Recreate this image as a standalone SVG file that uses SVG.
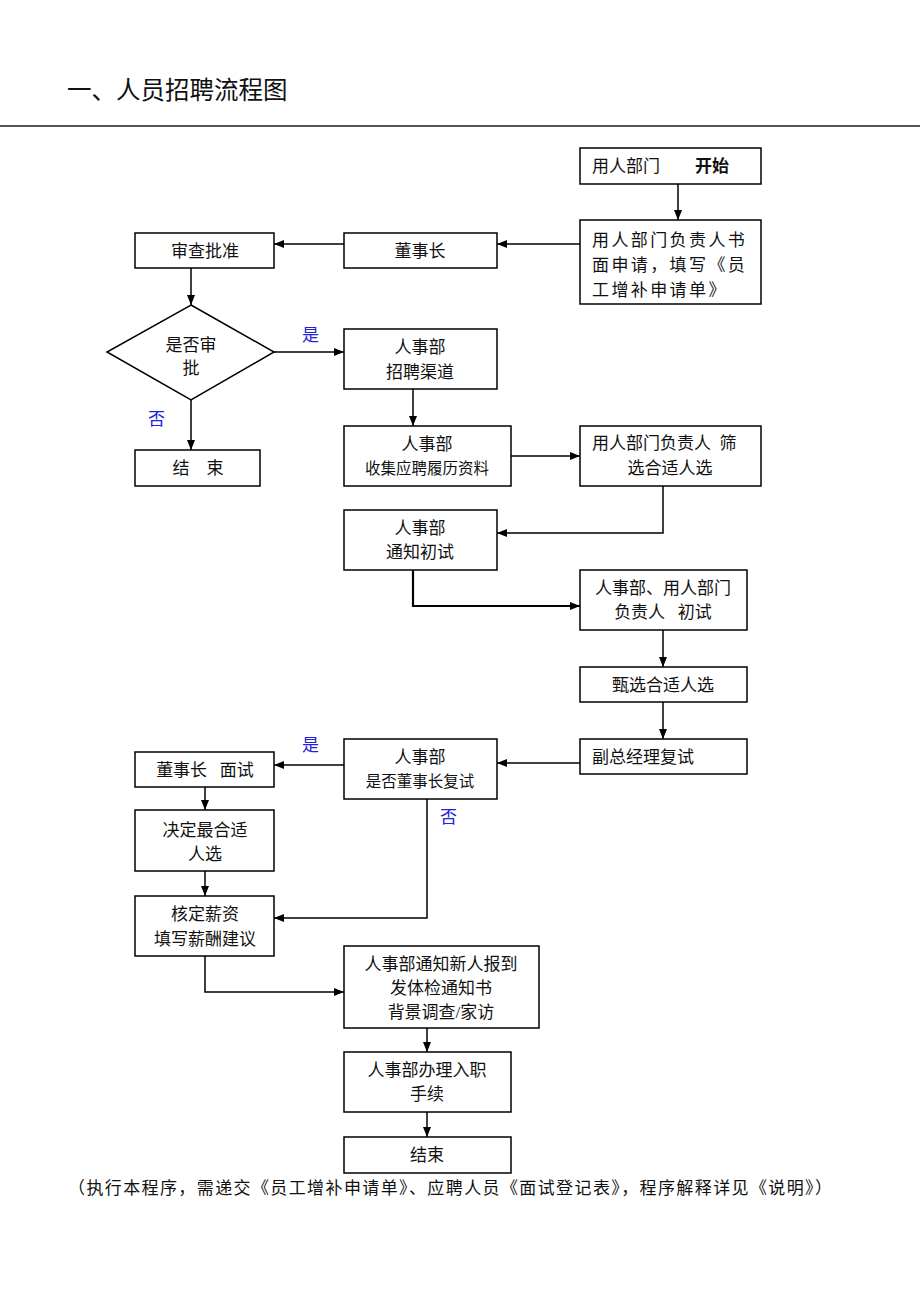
<svg xmlns="http://www.w3.org/2000/svg" width="920" height="1302" viewBox="0 0 920 1302">
<defs>
<marker id="ah" markerWidth="10" markerHeight="8" refX="10" refY="4" orient="auto" markerUnits="userSpaceOnUse">
<path d="M0,0 L10,4 L0,8 Z" fill="#000"/>
</marker>
<style>
text{font-family:"Liberation Serif","Noto Sans CJK SC",serif;font-size:17px;fill:#111;white-space:pre}
.c{text-anchor:middle}
.s{font-size:15.5px}
.b{fill:#2020e0}
.box{fill:#fff;stroke:#000;stroke-width:1.5}
.ln{fill:none;stroke:#000;stroke-width:1.5;marker-end:url(#ah)}
</style>
</defs>
<rect width="920" height="1302" fill="#fff"/>
<text x="67" y="99" style="font-size:24.5px">一、人员招聘流程图</text>
<line x1="0" y1="126" x2="920" y2="126" stroke="#555" stroke-width="2"/>

<g id="connectors">
<path class="ln" d="M678,184 V220"/>
<path class="ln" d="M580,244 H497"/>
<path class="ln" d="M344,244 H274"/>
<path class="ln" d="M191,268 V305"/>
<path class="ln" d="M274,352 H344"/>
<path class="ln" d="M191,400 V450"/>
<path class="ln" d="M413,389 V426"/>
<path class="ln" d="M511,456 H580"/>
<path class="ln" d="M663,486 V533 H497"/>
<path class="ln" d="M413,570 V606 H580" style="stroke-width:2.2"/>
<path class="ln" d="M663,630 V667"/>
<path class="ln" d="M663,702 V739"/>
<path class="ln" d="M580,763 H497"/>
<path class="ln" d="M344,765 H274"/>
<path class="ln" d="M427,799 V918 H274"/>
<path class="ln" d="M205,787 V810"/>
<path class="ln" d="M205,871 V896"/>
<path class="ln" d="M205,956 V992 H344"/>
<path class="ln" d="M427,1028 V1052"/>
<path class="ln" d="M427,1112 V1137"/>
<text class="b" x="302" y="341">是</text>
<text class="b" x="148" y="425">否</text>
<text class="b" x="302" y="751">是</text>
<text class="b" x="440" y="823">否</text>
</g>

<g id="n-start"><rect class="box" x="580" y="148" width="181" height="36"/><text x="592" y="172">用人部门</text><text x="695" y="172" style="font-weight:bold">开始</text></g>
<g id="n-apply"><rect class="box" x="580" y="220" width="181" height="84"/>
<text x="592" y="246" letter-spacing="2.4">用人部门负责人书</text>
<text x="592" y="271" letter-spacing="2.4">面申请，填写《员</text>
<text x="592" y="296" letter-spacing="2.4">工增补申请单》</text></g>
<g id="n-chairman"><rect class="box" x="344" y="233" width="153" height="35"/><text class="c" x="420" y="257">董事长</text></g>
<g id="n-review"><rect class="box" x="135" y="233" width="139" height="35"/><text class="c" x="205" y="257">审查批准</text></g>
<g id="n-decision"><polygon class="box" points="191,305 274,352 191,400 107,352"/><text class="c" x="191" y="351">是否审</text><text class="c" x="191" y="374">批</text></g>
<g id="n-channel"><rect class="box" x="344" y="329" width="153" height="60"/><text class="c" x="420" y="353">人事部</text><text class="c" x="420" y="378">招聘渠道</text></g>
<g id="n-end1"><rect class="box" x="135" y="450" width="125" height="36"/><text class="c" x="198" y="474">结　束</text></g>
<g id="n-collect"><rect class="box" x="344" y="426" width="167" height="60"/><text class="c" x="427" y="450">人事部</text><text class="c s" x="427" y="474">收集应聘履历资料</text></g>
<g id="n-screen"><rect class="box" x="580" y="426" width="181" height="60"/><text x="592" y="449">用人部门负责人  筛</text><text class="c" x="670" y="474">选合适人选</text></g>
<g id="n-notify"><rect class="box" x="344" y="510" width="153" height="60"/><text class="c" x="420" y="534">人事部</text><text class="c" x="420" y="558">通知初试</text></g>
<g id="n-first"><rect class="box" x="580" y="570" width="167" height="60"/><text class="c" x="663" y="594">人事部、用人部门</text><text class="c" x="663" y="618">负责人   初试</text></g>
<g id="n-select"><rect class="box" x="580" y="667" width="167" height="35"/><text class="c" x="663" y="691">甄选合适人选</text></g>
<g id="n-vp"><rect class="box" x="580" y="739" width="167" height="35"/><text x="592" y="763">副总经理复试</text></g>
<g id="n-ask"><rect class="box" x="344" y="739" width="153" height="60"/><text class="c" x="420" y="763">人事部</text><text class="c s" x="420" y="787">是否董事长复试</text></g>
<g id="n-interview"><rect class="box" x="135" y="752" width="139" height="35"/><text class="c" x="205" y="776">董事长   面试</text></g>
<g id="n-decide"><rect class="box" x="135" y="810" width="139" height="61"/><text class="c" x="205" y="836">决定最合适</text><text class="c" x="205" y="860">人选</text></g>
<g id="n-salary"><rect class="box" x="135" y="896" width="139" height="60"/><text class="c" x="205" y="920">核定薪资</text><text class="c" x="205" y="945">填写薪酬建议</text></g>
<g id="n-report"><rect class="box" x="344" y="946" width="195" height="82"/><text class="c" x="441" y="970">人事部通知新人报到</text><text class="c" x="441" y="994">发体检通知书</text><text class="c" x="441" y="1018">背景调查/家访</text></g>
<g id="n-onboard"><rect class="box" x="344" y="1052" width="167" height="60"/><text class="c" x="427" y="1076">人事部办理入职</text><text class="c" x="427" y="1100">手续</text></g>
<g id="n-end2"><rect class="box" x="344" y="1137" width="167" height="36"/><text class="c" x="427" y="1161">结束</text></g>
<text x="68" y="1194" textLength="764" lengthAdjust="spacing">（执行本程序，需递交《员工增补申请单》、应聘人员《面试登记表》，程序解释详见《说明》）</text>
</svg>
